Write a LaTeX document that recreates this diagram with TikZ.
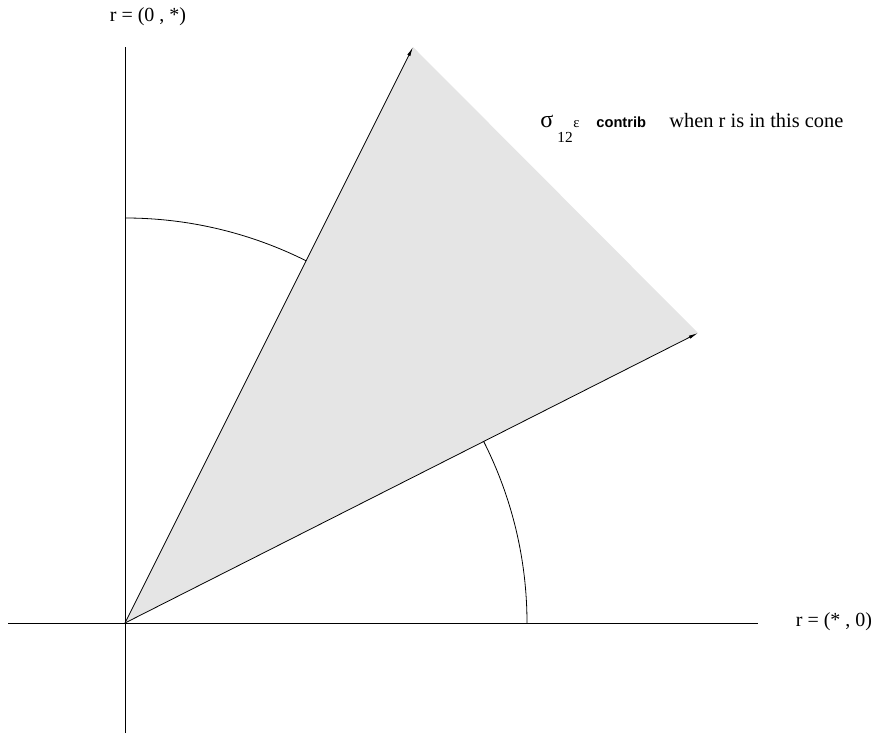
\documentclass[tikz,border=0pt]{standalone}
\usepackage{fontspec}
\setmainfont{Liberation Serif}
\newfontfamily\labelsans{Liberation Sans}
\usetikzlibrary{arrows.meta}

\begin{document}
\begin{tikzpicture}[x=0.75pt, y=0.75pt, line width=0.6pt,
  axislabel/.style={font=\fontsize{15}{18}\selectfont, inner sep=0pt},
  textlabel/.style={font=\fontsize{15}{18}\selectfont, inner sep=0pt, anchor=base west},
  coneedge/.style={-{Latex[length=7pt, width=2.5pt]}}]
  \useasboundingbox (0,0) rectangle (873,735);

  % points of the picture
  \coordinate (O) at (125,112);
  \coordinate (xl) at (8,112);
  \coordinate (xr) at (758,112);
  \coordinate (yb) at (125,2);
  \coordinate (yt) at (125,688);
  \coordinate (A) at (413,688);
  \coordinate (B) at (698,402);

  % the cone
  \fill[black!10] (O) -- (A) -- (B) -- cycle;
  \draw[coneedge] (O) -- (A);
  \draw[coneedge] (O) -- (B);

  % axes
  \draw (xl) -- (xr);
  \draw (yb) -- (yt);

  % angle arcs
  \draw (O) ++(90:405) arc[start angle=90, end angle=63.43, radius=405];
  \draw (O) ++(0:402) arc[start angle=0, end angle=26.85, radius=402];

  % labels
  \node[axislabel] (ylab) at (148,718) {r = (0 , *)};
  \node[axislabel] (xlab) at (834,113) {r = (* , 0)};

  \node[textlabel, font=\fontsize{18}{20}\selectfont] (sigma) at (540,607) {σ};
  \node[textlabel, font=\fontsize{11.5}{14}\selectfont] (sub) at (557,592) {12};
  \node[textlabel, font=\fontsize{11}{14}\selectfont] (eps) at (573,607) {ε};
  \node[textlabel, font=\labelsans\bfseries\fontsize{11}{13}\selectfont] (contrib) at (596,607) {contrib};
  \node[textlabel, font=\fontsize{15.3}{18}\selectfont] (cone) at (669,607) {when r is in this cone};
\end{tikzpicture}
\end{document}
